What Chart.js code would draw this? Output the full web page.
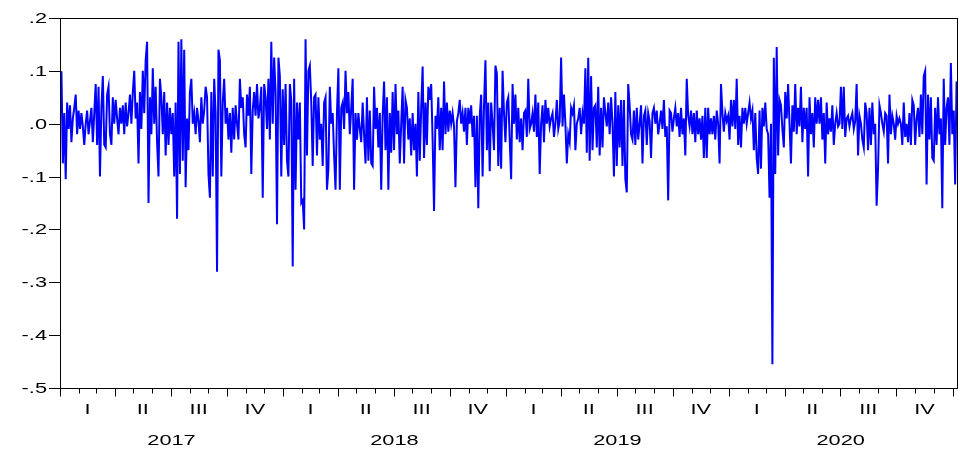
<!DOCTYPE html>
<html><head><meta charset="utf-8">
<script src="https://cdn.jsdelivr.net/npm/chart.js@4"></script>
<style>html,body{margin:0;padding:0;background:#fff;}canvas{display:block;}</style>
</head><body>
<canvas id="c" width="960" height="450"></canvas>
<script>
// Daily returns (roughly 2-3 days per value), split by year
const returns2017 = [
 0.02, 0.099, -0.075, 0.02, -0.105, 0.04, -0.01,
 0.035, -0.035, 0.01, 0.03, 0.055, -0.02, 0.025,
 -0.01, 0.02, -0.005, -0.04, 0.0, 0.025, -0.02,
 0.005, 0.03, -0.035, 0.02, 0.075, -0.04, 0.07,
 -0.1, 0.03, 0.09, -0.04, -0.045, 0.055, 0.07,
 -0.02, -0.04, 0.05, 0.0, 0.045, 0.01, -0.02,
 0.03, 0.0, 0.035, -0.02, 0.04, -0.005, 0.02,
 0.055, 0.0, 0.06, 0.1, 0.01, 0.04, -0.075,
 0.06, -0.01, 0.1, 0.02, 0.12, 0.155, -0.15,
 0.05, -0.02, 0.105, 0.0, 0.07, -0.035, -0.1,
 0.085, 0.05, -0.02, 0.06, -0.06, 0.04, -0.04,
 0.03, -0.02, 0.02, -0.1, 0.04, -0.18, 0.155,
 -0.095, 0.16, -0.07, 0.14, -0.12, 0.01, -0.05,
 0.06, 0.085, 0.0, 0.02, -0.02, 0.03, 0.005,
 -0.035, 0.05, 0.0, 0.025, 0.07, 0.05, -0.095,
 -0.14, 0.06, -0.1, 0.085, 0.02, -0.28, 0.14,
 0.12, -0.1, 0.04, 0.085, 0.0, 0.03, -0.03,
 0.02, -0.055, 0.03, -0.03, 0.035, 0.0, -0.03,
 0.085, 0.03, 0.05, -0.02, -0.045, 0.055, 0.015,
 0.07, -0.095, 0.025, 0.06, 0.015, 0.075, 0.01,
 0.03, 0.07, -0.14, 0.075, 0.05, -0.01, 0.085,
 -0.03, 0.155, 0.0, 0.125, 0.06, -0.19, 0.125
];
const returns2018 = [
 0.09, -0.1, 0.065, -0.04, 0.075, -0.07, -0.1,
 0.075, 0.045, -0.27, 0.085, -0.125, 0.04, -0.03,
 0.04, -0.15, -0.145, -0.2, 0.16, -0.06, 0.1,
 0.11, 0.04, -0.08, 0.05, 0.055, -0.06, 0.05,
 -0.03, 0.0, -0.08, 0.04, 0.05, -0.125, -0.085,
 0.07, 0.0, 0.02, -0.06, -0.125, 0.02, 0.105,
 -0.125, 0.03, 0.04, -0.01, 0.1, 0.02, 0.06,
 -0.02, 0.03, 0.085, -0.125, 0.02, -0.03, 0.02,
 -0.01, -0.035, 0.04, -0.02, -0.075, 0.05, -0.07,
 0.025, -0.075, -0.08, 0.07, -0.01, 0.03, -0.045,
 0.02, -0.125, 0.015, 0.08, -0.05, 0.05, -0.125,
 0.02, -0.055, 0.06, -0.05, 0.075, -0.02, 0.025,
 -0.075, 0.0, 0.07, -0.075, 0.045, 0.03, -0.03,
 0.01, -0.06, 0.02, -0.05, 0.0, -0.1, 0.06,
 -0.07, 0.03, 0.108, -0.065, 0.04, -0.04, 0.07,
 0.045, 0.075, -0.03, -0.165, 0.015, -0.01, 0.05,
 -0.05, 0.03, -0.05, 0.08, -0.02, 0.04, -0.015,
 0.025, 0.0, 0.02, -0.005, -0.12, 0.005, 0.02,
 0.045, 0.0, 0.02, -0.015, 0.03, -0.04, 0.03,
 0.0, 0.035, -0.025, 0.015, -0.12, 0.015, -0.16,
 0.015, 0.055, -0.1, 0.035, 0.12, -0.05, 0.04,
 -0.09, 0.04, 0.0, -0.05, 0.11, 0.095, -0.08
];
const returns2019 = [
 0.03, -0.085, 0.1, 0.02, -0.035, 0.04, 0.05,
 -0.03, -0.105, 0.075, 0.0, 0.055, -0.03, 0.03,
 -0.035, 0.01, -0.05, 0.02, 0.025, -0.025, 0.085,
 -0.01, 0.0, 0.02, -0.015, 0.055, -0.025, 0.04,
 -0.095, 0.0, 0.035, -0.035, 0.045, 0.0, 0.03,
 -0.005, 0.01, 0.02, -0.025, 0.0, 0.045, -0.01,
 0.005, 0.125, -0.005, 0.055, 0.0, -0.075, -0.02,
 -0.035, 0.03, 0.02, 0.035, -0.05, 0.0, 0.01,
 0.03, -0.02, 0.02, 0.0, 0.105, -0.055, 0.125,
 -0.07, 0.09, -0.05, 0.03, 0.035, -0.045, 0.07,
 -0.06, 0.03, -0.045, 0.05, 0.02, -0.005, 0.04,
 -0.02, 0.05, 0.0, -0.1, 0.06, -0.08, 0.035,
 -0.045, 0.045, -0.08, 0.045, -0.105, -0.13, 0.075,
 0.035, -0.02, -0.03, 0.025, -0.04, 0.03, -0.03,
 0.0, 0.035, -0.075, 0.015, 0.025, -0.04, 0.02,
 0.005, -0.065, 0.02, 0.03, 0.0, 0.025, -0.02,
 0.0, 0.025, -0.01, 0.045, -0.025, -0.005, -0.145,
 0.025, 0.02, -0.015, 0.01, 0.03, -0.005, 0.02,
 -0.025, 0.03, -0.02, 0.01, -0.06, 0.085, 0.015,
 -0.005, 0.025, -0.02, 0.02, -0.035, 0.025, -0.02,
 0.01, -0.03, 0.015, -0.065, 0.03, -0.065, 0.03,
 -0.02, 0.01, -0.02, 0.015, -0.03, 0.025, 0.0,
 -0.075, 0.075, 0.02, -0.015, 0.02, 0.005, 0.015
];
const returns2020 = [
 -0.03, 0.045, -0.005, 0.045, -0.01, 0.085, -0.04,
 0.015, -0.045, 0.03, 0.0, 0.03, 0.0, 0.02,
 0.04, 0.01, 0.025, -0.05, 0.02, -0.065, -0.095,
 0.025, -0.085, 0.03, -0.005, 0.04, -0.01, -0.02,
 -0.14, 0.0, -0.455, 0.125, -0.095, 0.145, -0.06,
 0.045, 0.035, -0.01, -0.045, 0.06, 0.01, 0.075,
 0.0, -0.075, 0.035, -0.015, 0.075, -0.02, 0.03,
 -0.005, 0.07, -0.035, 0.03, -0.01, 0.03, -0.1,
 0.05, -0.02, 0.02, -0.045, 0.05, 0.0, 0.045,
 0.0, 0.05, -0.03, 0.02, -0.075, 0.04, -0.02,
 0.01, -0.015, 0.035, -0.04, 0.0, 0.02, -0.005,
 0.0, 0.07, -0.01, 0.07, -0.025, 0.01, 0.015,
 -0.005, 0.01, 0.02, -0.01, 0.005, 0.075, -0.06,
 0.015, 0.0, -0.03, -0.045, 0.04, 0.02, -0.05,
 0.03, -0.04, 0.04, -0.02, 0.0, -0.155, -0.085,
 0.035, 0.02, 0.0, -0.015, 0.02, 0.015, -0.075,
 0.055, -0.02, 0.015, 0.0, -0.03, 0.015, 0.0,
 0.01, 0.0, -0.04, 0.04, -0.025, 0.0, -0.035,
 0.02, -0.04, 0.045, 0.035, -0.04, 0.01, 0.03,
 -0.025, 0.055, -0.02, 0.09, 0.1, -0.115, 0.055,
 -0.03, 0.05, -0.065, -0.07, 0.03, -0.04, 0.05,
 -0.02, 0.01, -0.16, 0.085, -0.04, 0.03, 0.05,
 -0.04, 0.115, -0.02, 0.025, -0.115, 0.08, 0.035
];
const years = [2017, 2018, 2019, 2020];
const quarterLabels = ['I', 'II', 'III', 'IV'];
const yTicks = [0.2, 0.1, 0.0, -0.1, -0.2, -0.3, -0.4, -0.5];
const yTickLabels = ['.2', '.1', '.0', '-.1', '-.2', '-.3', '-.4', '-.5'];
const SPAN_DAYS = 1470; // 2017-01-01 .. early Jan 2021

const values = [].concat(returns2017, returns2018, returns2019, returns2020);
const DAY = 86400000, T0 = Date.UTC(2017, 0, 1);
const dayOf = (y, m) => (Date.UTC(y, m, 1) - T0) / DAY;
const step = SPAN_DAYS / (values.length - 1);
const points = values.map((v, i) => ({ x: i * step, y: v }));

const FONT = '15px "Liberation Sans", Arial, sans-serif';
const SX = 1.45;
function stretchText(ctx, txt, x, y, align) {
  ctx.save();
  ctx.translate(x, y);
  ctx.scale(SX, 1);
  ctx.textAlign = align;
  ctx.textBaseline = 'middle';
  ctx.fillText(txt, 0, 0);
  ctx.restore();
}

const axesPlugin = {
  id: 'evAxes',
  afterDraw(chart) {
    const { ctx, chartArea: a, scales: { x, y } } = chart;
    ctx.save();
    ctx.strokeStyle = '#000';
    ctx.fillStyle = '#000';
    ctx.lineWidth = 1;
    ctx.font = FONT;
    ctx.strokeRect(a.left + 0.5, a.top + 0.5, a.right - a.left - 1, a.bottom - a.top);
    yTicks.forEach((v, i) => {
      const py = Math.round(y.getPixelForValue(v)) + 0.5;
      ctx.beginPath(); ctx.moveTo(a.left - 11, py); ctx.lineTo(a.left, py); ctx.stroke();
      stretchText(ctx, yTickLabels[i], a.left - 13, py, 'right');
    });
    const yb = a.bottom + 0.5;
    years.forEach(yr => {
      for (let m = 0; m < 12; m++) {
        const px = Math.round(x.getPixelForValue(dayOf(yr, m))) + 0.5;
        const len = (m % 3 === 0) ? 8 : 5;
        ctx.beginPath(); ctx.moveTo(px, yb); ctx.lineTo(px, yb + len); ctx.stroke();
      }
      quarterLabels.forEach((q, qi) => {
        const c = (dayOf(yr, qi * 3) + dayOf(yr, qi * 3 + 3)) / 2;
        stretchText(ctx, q, x.getPixelForValue(c), 410, 'center');
      });
      const cy = (dayOf(yr, 0) + dayOf(yr + 1, 0)) / 2;
      stretchText(ctx, String(yr), x.getPixelForValue(cy), 441, 'center');
    });
    const pe = Math.round(x.getPixelForValue(dayOf(2021, 0))) + 0.5;
    ctx.beginPath(); ctx.moveTo(pe, yb); ctx.lineTo(pe, yb + 8); ctx.stroke();
    ctx.restore();
  }
};

new Chart(document.getElementById('c'), {
  type: 'line',
  data: { datasets: [{ data: points, borderColor: '#0000ff', borderWidth: 2, pointRadius: 0, fill: false, tension: 0 }] },
  options: {
    responsive: false,
    animation: false,
    devicePixelRatio: 1,
    layout: { padding: { left: 60, right: 2, top: 18, bottom: 62 } },
    scales: {
      x: { type: 'linear', min: 0, max: SPAN_DAYS, display: false },
      y: { min: -0.5, max: 0.2, display: false }
    },
    plugins: { legend: { display: false }, tooltip: { enabled: false } }
  },
  plugins: [axesPlugin]
});
</script>
</body></html>
